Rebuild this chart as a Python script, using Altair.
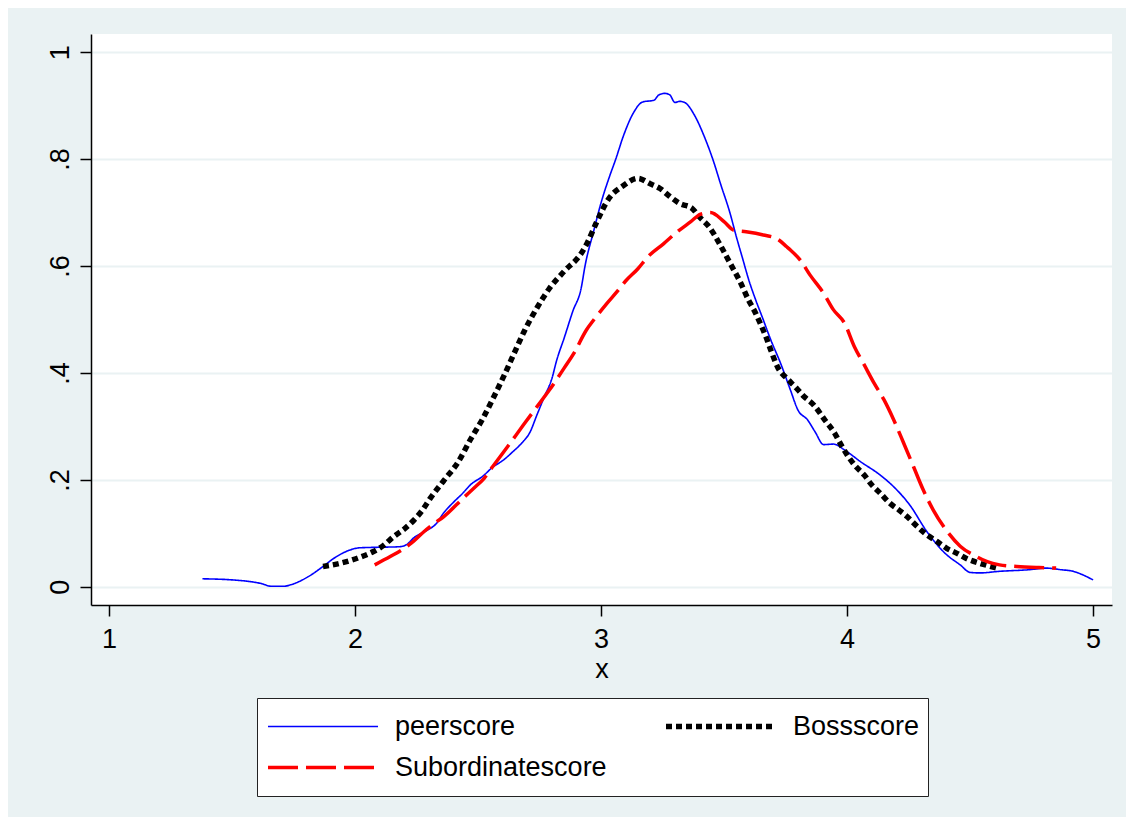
import altair as alt
import pandas as pd

series_names = ["peerscore", "Bossscore", "Subordinatescore"]

peer_x = [1.38, 1.50, 1.62, 1.66, 1.71, 1.74, 1.81, 1.87, 1.91, 1.95, 2.02, 2.10, 2.18, 2.21,
          2.24, 2.29, 2.33, 2.36, 2.40, 2.44, 2.47, 2.52, 2.56, 2.60, 2.64, 2.68, 2.71, 2.74,
          2.77, 2.80, 2.82, 2.85, 2.885, 2.92, 2.935, 2.97, 3.00, 3.035, 3.06, 3.09, 3.13,
          3.17, 3.215, 3.235, 3.26, 3.28, 3.30, 3.32, 3.34, 3.38, 3.42, 3.46, 3.485, 3.525,
          3.55, 3.575, 3.60, 3.63, 3.655, 3.69, 3.73, 3.77, 3.80, 3.84, 3.87, 3.905, 3.945,
          3.99, 4.055, 4.135, 4.19, 4.255, 4.325, 4.40, 4.46, 4.50, 4.54, 4.62, 4.74, 4.81,
          4.87, 4.92, 4.96, 5.00]
peer_y = [0.015, 0.013, 0.006, 0.001, 0.001, 0.004, 0.019, 0.038, 0.052, 0.063, 0.073, 0.074,
          0.075, 0.079, 0.092, 0.105, 0.118, 0.138, 0.158, 0.176, 0.191, 0.207, 0.224, 0.236,
          0.252, 0.270, 0.288, 0.322, 0.356, 0.389, 0.424, 0.465, 0.515, 0.560, 0.600, 0.665,
          0.718, 0.768, 0.800, 0.842, 0.885, 0.907, 0.910, 0.920, 0.923, 0.920, 0.906, 0.908,
          0.906, 0.882, 0.842, 0.792, 0.755, 0.698, 0.655, 0.615, 0.575, 0.535, 0.505, 0.462,
          0.418, 0.368, 0.331, 0.312, 0.290, 0.266, 0.267, 0.256, 0.234, 0.209, 0.187, 0.153,
          0.103, 0.062, 0.041, 0.027, 0.026, 0.029, 0.032, 0.035, 0.032, 0.029, 0.022, 0.013]

boss_x = [1.87, 1.93, 1.98, 2.03, 2.075, 2.115, 2.155, 2.20, 2.24, 2.275, 2.305, 2.36, 2.42,
          2.47, 2.52, 2.565, 2.61, 2.65, 2.69, 2.74, 2.79, 2.85, 2.92, 2.945, 2.98, 3.03, 3.09,
          3.15, 3.20, 3.24, 3.28, 3.32, 3.37, 3.40, 3.44, 3.485, 3.525, 3.565, 3.60, 3.625,
          3.65, 3.67, 3.69, 3.72, 3.755, 3.79, 3.825, 3.865, 3.91, 3.95, 3.98, 4.03, 4.07,
          4.10, 4.135, 4.175, 4.21, 4.245, 4.285, 4.325, 4.365, 4.405, 4.445, 4.49, 4.54,
          4.585, 4.61]
boss_y = [0.038, 0.043, 0.049, 0.057, 0.066, 0.077, 0.093, 0.108, 0.125, 0.144, 0.165, 0.198,
          0.234, 0.276, 0.315, 0.356, 0.399, 0.440, 0.480, 0.522, 0.558, 0.590, 0.624, 0.644,
          0.680, 0.725, 0.750, 0.764, 0.754, 0.745, 0.730, 0.717, 0.708, 0.692, 0.673, 0.639,
          0.605, 0.571, 0.536, 0.515, 0.490, 0.468, 0.443, 0.409, 0.390, 0.374, 0.356, 0.340,
          0.312, 0.287, 0.262, 0.228, 0.209, 0.191, 0.175, 0.156, 0.144, 0.131, 0.113, 0.097,
          0.085, 0.072, 0.063, 0.052, 0.044, 0.038, 0.035]

sub_x = [2.08, 2.145, 2.19, 2.23, 2.28, 2.32, 2.36, 2.44, 2.484, 2.525, 2.56, 2.62, 2.685,
         2.74, 2.79, 2.85, 2.89, 2.94, 2.97, 3.02, 3.065, 3.10, 3.15, 3.19, 3.255, 3.31, 3.365,
         3.405, 3.445, 3.50, 3.54, 3.59, 3.66, 3.715, 3.755, 3.77, 3.81, 3.85, 3.905, 3.945,
         3.99, 4.03, 4.07, 4.11, 4.15, 4.19, 4.23, 4.27, 4.31, 4.35, 4.405, 4.46, 4.525, 4.57,
         4.62, 4.69, 4.78, 4.85]
sub_y = [0.041, 0.057, 0.069, 0.082, 0.103, 0.118, 0.131, 0.166, 0.185, 0.203, 0.225, 0.262,
         0.303, 0.337, 0.368, 0.409, 0.437, 0.480, 0.499, 0.528, 0.552, 0.572, 0.595, 0.617,
         0.642, 0.664, 0.683, 0.697, 0.700, 0.683, 0.667, 0.664, 0.658, 0.651, 0.636, 0.630,
         0.611, 0.583, 0.549, 0.518, 0.493, 0.449, 0.415, 0.381, 0.350, 0.312, 0.269, 0.225,
         0.181, 0.144, 0.105, 0.076, 0.057, 0.047, 0.041, 0.038, 0.036, 0.035]

x_ticks = [1, 2, 3, 4, 5]
y_ticks = [0, 0.2, 0.4, 0.6, 0.8, 1.0]
y_tick_labels = ["0", ".2", ".4", ".6", ".8", "1"]

frames = []
for name, xs, ys in zip(series_names, [peer_x, boss_x, sub_x], [peer_y, boss_y, sub_y]):
    frames.append(pd.DataFrame({"x": xs, "y": ys, "series": name}))
df = pd.concat(frames, ignore_index=True)

FONT = "Liberation Sans"
BG = "#EAF2F3"
colors = ["#0000FF", "#000000", "#FF0000"]
dashes = [[1, 0], [6, 4], [30, 8]]
widths = [1.6, 5.5, 3.5]

label_expr = "[" + ",".join("'%s'" % t for t in y_tick_labels) + "][round(datum.value*5)]"

legend = alt.Legend(
    title=None, orient="none", legendX=166, legendY=664, columns=2, direction="horizontal",
    symbolType="stroke", symbolSize=110 * 110, clipHeight=41, symbolOffset=0,
    labelFont=FONT, labelFontSize=27, labelColor="black", labelOffset=14,
    labelLimit=500, columnPadding=56, rowPadding=0, padding=8,
    strokeColor="#222222", fillColor="white",
)

color_enc = alt.Color("series:N", scale=alt.Scale(domain=series_names, range=colors), legend=legend)
dash_enc = alt.StrokeDash("series:N", scale=alt.Scale(domain=series_names, range=dashes), legend=legend)
width_enc = alt.StrokeWidth("series:N", scale=alt.Scale(type="ordinal", domain=series_names, range=widths),
                            legend=legend)

x_enc = alt.X(
    "x:Q",
    scale=alt.Scale(domain=[0.927, 5.077], nice=False, zero=False),
    axis=alt.Axis(
        values=x_ticks, format="d", title="x", grid=False,
        tickSize=11, tickColor="black", tickWidth=1.5,
        domainColor="black", domainWidth=1.5,
        labelFont=FONT, labelFontSize=27, labelColor="black", labelPadding=10,
        titleFont=FONT, titleFontSize=27, titleFontWeight="normal", titleColor="black",
        titlePadding=4,
    ),
)
y_enc = alt.Y(
    "y:Q",
    scale=alt.Scale(domain=[-0.034, 1.034], nice=False, zero=False),
    axis=alt.Axis(
        values=y_ticks, labelExpr=label_expr, title=None,
        grid=True, gridColor=BG, gridWidth=2,
        tickSize=11, tickColor="black", tickWidth=1.5,
        domainColor="black", domainWidth=1.5,
        labelFont=FONT, labelFontSize=27, labelColor="black", labelPadding=12,
        labelAngle=270, labelAlign="center", labelBaseline="alphabetic",
    ),
)

base = alt.Chart(df).encode(x=x_enc, y=y_enc, color=color_enc, strokeDash=dash_enc,
                            strokeWidth=width_enc)
layers = [
    base.transform_filter(alt.datum.series == name).mark_line(interpolate="monotone")
    for name in series_names
]

chart = alt.layer(*layers).properties(
    width=1021, height=571,
    autosize=alt.AutoSizeParams(type="none"),
    padding={"left": 83, "top": 26, "right": 14, "bottom": 212},
    background=BG,
).configure_view(fill="white", strokeWidth=0)

chart.save("out.html", embed_options={"renderer": "svg", "actions": False})
